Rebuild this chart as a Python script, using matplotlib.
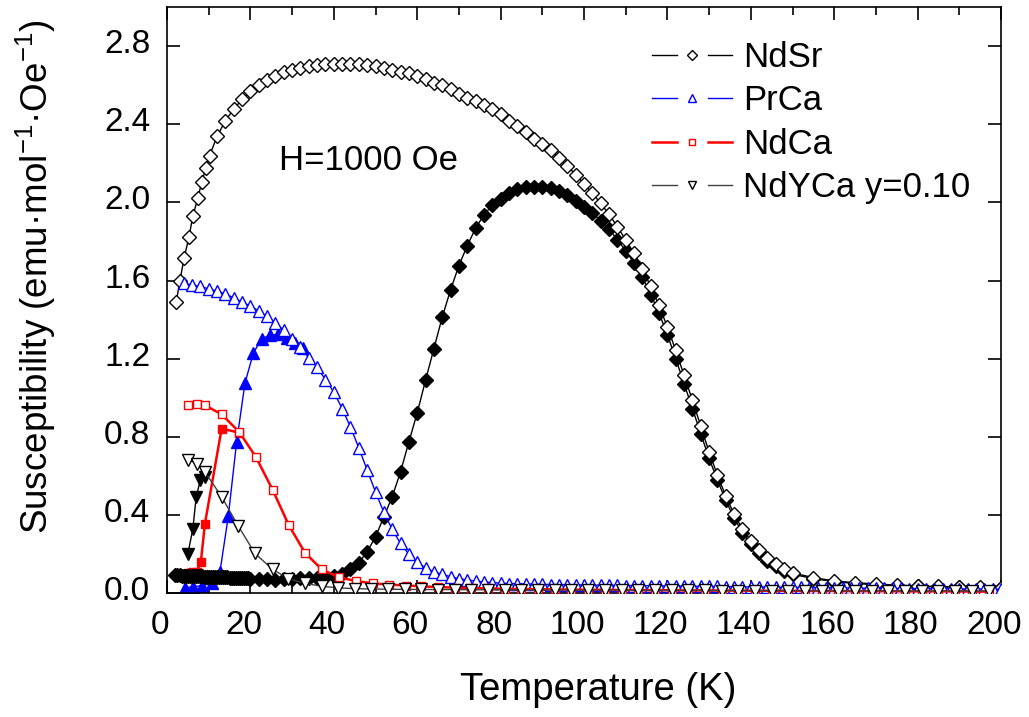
import matplotlib
matplotlib.use("Agg")
import matplotlib.pyplot as plt
from matplotlib.lines import Line2D
from matplotlib.legend_handler import HandlerBase
from matplotlib.ticker import MultipleLocator
from matplotlib.transforms import ScaledTranslation

plt.rcParams["font.family"] = ["Liberation Sans", "DejaVu Sans"]
plt.rcParams["mathtext.fontset"] = "custom"
plt.rcParams["mathtext.rm"] = "Liberation Sans"
plt.rcParams["mathtext.default"] = "regular"

# ====== NdSr (open = FC, filled = ZFC) ======
T_ndsr_fc = [2.2, 3.1, 4.1, 5.3, 6.2, 7.4, 8.3, 9.3, 10.2,
             12, 14, 16, 18, 20, 22, 24, 26, 28, 30, 32, 34, 36, 38, 40, 42, 44, 46, 48, 50,
             52, 54, 56, 58, 60, 62, 64, 66, 68, 70, 72, 74, 76, 78, 80, 82, 84, 86, 88, 90,
             92, 94, 96, 98, 100, 102, 104, 106, 108, 110, 112, 114, 116, 118, 120, 122, 124,
             126, 128, 130, 132, 134, 136, 138, 140, 142, 144, 146, 148, 150,
             155, 160, 165, 170, 175, 180, 185, 190, 195, 200]
chi_ndsr_fc = [1.490, 1.600, 1.716, 1.825, 1.933, 2.021, 2.103, 2.174, 2.239,
               2.338, 2.418, 2.478, 2.527, 2.568, 2.600, 2.627, 2.648, 2.665, 2.678, 2.689,
               2.697, 2.704, 2.707, 2.710, 2.710, 2.709, 2.707, 2.704, 2.699,
               2.690, 2.680, 2.670, 2.660, 2.645, 2.630, 2.612, 2.600, 2.580, 2.554, 2.537,
               2.520, 2.500, 2.478, 2.452, 2.418, 2.392, 2.358, 2.327, 2.299,
               2.266, 2.226, 2.186, 2.143, 2.096, 2.048, 1.995, 1.940, 1.876, 1.808, 1.740,
               1.660, 1.570, 1.473, 1.362, 1.243, 1.115,
               0.988, 0.855, 0.723, 0.604, 0.497, 0.405, 0.327, 0.269, 0.221, 0.179, 0.148,
               0.123, 0.105,
               0.080, 0.064, 0.054, 0.048, 0.042, 0.037, 0.035, 0.033, 0.031, 0.029]

T_ndsr_zfc = [2.0, 2.5, 3.0, 3.5, 4.0, 4.5, 5.0, 5.5, 6.0, 6.5, 7.0, 7.5, 8.0, 8.5, 9.0,
              9.5, 10.0, 10.5, 11.0, 11.5, 12.0, 12.5, 13.0, 13.5, 14.0, 14.5, 15.0, 15.5,
              16.0, 16.5, 17.0, 17.5, 18.0, 18.5, 19.0, 19.5, 20.0,
              22, 24, 26, 28, 30, 32, 34, 36, 38, 40, 42, 44, 46, 48, 50, 52, 54, 56, 58, 60,
              62, 64, 66, 68, 70, 72, 74, 76, 78, 80, 82, 84, 86, 88, 90, 92, 94, 96, 98, 100,
              102, 104, 106, 108, 110, 112, 114, 116, 118, 120, 122, 124, 126, 128, 130, 132,
              134, 136, 138, 140, 142, 144, 146, 148, 150,
              155, 160, 165, 170, 175, 180, 185, 190, 195, 200]
chi_ndsr_zfc = [0.093, 0.092, 0.092, 0.091, 0.091, 0.090, 0.090, 0.089, 0.089, 0.088, 0.088,
                0.088, 0.087, 0.087, 0.086, 0.086, 0.085, 0.085, 0.084, 0.084, 0.083, 0.083,
                0.082, 0.082, 0.081, 0.081, 0.080, 0.080, 0.079, 0.079, 0.078, 0.078, 0.077,
                0.077, 0.076, 0.076, 0.075,
                0.072, 0.071, 0.070, 0.071, 0.073, 0.078, 0.080, 0.078, 0.082, 0.088, 0.099,
                0.122, 0.156, 0.213, 0.289, 0.391, 0.494, 0.621, 0.775, 0.923,
                1.090, 1.252, 1.413, 1.553, 1.677, 1.779, 1.868, 1.936, 1.987, 2.018, 2.047,
                2.069, 2.077, 2.081, 2.081, 2.072, 2.057, 2.036, 2.009, 1.978,
                1.946, 1.907, 1.865, 1.808, 1.754, 1.689, 1.617, 1.529, 1.434, 1.323, 1.200,
                1.073, 0.945, 0.817, 0.690, 0.579,
                0.475, 0.385, 0.310, 0.250, 0.205, 0.167, 0.138, 0.115, 0.098,
                0.075, 0.060, 0.050, 0.044, 0.039, 0.035, 0.033, 0.031, 0.029, 0.027]

# ====== PrCa ======
T_prca_fc = [4, 6, 8, 10, 12, 14, 16, 18, 20, 22, 24, 26, 28, 30, 32, 34, 36, 38, 40, 42,
             44, 46, 48, 50, 52, 54, 56, 58, 60, 62, 64, 66, 68, 70, 72, 74, 76, 78, 80, 82,
             84, 86, 88, 90, 92, 94, 96, 98, 100, 102, 104, 106, 108, 110, 112, 114, 116, 118,
             120, 122, 124, 126, 128, 130, 132, 134, 136, 138, 140, 142, 144, 146, 148, 150,
             152, 154, 156, 158, 160, 162, 164, 166, 168, 170, 172, 174, 176, 178, 180, 182,
             184, 186, 188, 190, 192, 194, 196, 198, 200]
chi_prca_fc = [1.587, 1.578, 1.570, 1.558, 1.546, 1.532, 1.512, 1.490, 1.470, 1.445, 1.418,
               1.385, 1.345, 1.303, 1.260, 1.205, 1.157, 1.093, 1.030, 0.945, 0.851, 0.744,
               0.630, 0.519, 0.414, 0.327, 0.255, 0.200, 0.158, 0.130, 0.110, 0.097, 0.085,
               0.075, 0.068, 0.063, 0.058, 0.055, 0.052, 0.050, 0.049, 0.048, 0.047, 0.046,
               0.045, 0.045, 0.044, 0.043, 0.043,
               0.042, 0.042, 0.041, 0.041, 0.040, 0.040, 0.039, 0.039, 0.038, 0.038,
               0.037, 0.037, 0.036, 0.036, 0.035, 0.035, 0.034, 0.034, 0.033, 0.033,
               0.032, 0.032, 0.031, 0.031, 0.030, 0.030, 0.029, 0.029, 0.028, 0.028,
               0.027, 0.027, 0.026, 0.026, 0.026, 0.025, 0.025, 0.025, 0.024, 0.024,
               0.024, 0.023, 0.023, 0.023, 0.022, 0.022, 0.022, 0.022, 0.021, 0.021]

T_prca_zfc = [4.3, 6.3, 8.5, 10.7, 12.7, 14.7, 16.7, 18.7, 20.7, 22.7, 24.7, 26.7, 28.7,
              30.7, 32.7]
chi_prca_zfc = [0.029, 0.033, 0.040, 0.051, 0.110, 0.395, 0.775, 1.076, 1.229, 1.303, 1.320,
                1.325, 1.306, 1.280, 1.255]

# ====== NdCa ======
T_ndca_fc = [5.1, 7.1, 9.1, 13.1, 17.3, 21.3, 25.3, 29.2, 33.1, 37.1, 41.2, 45.3, 49.3,
             53.3, 57.3, 61, 65, 69, 73, 77, 81, 85, 89, 93, 97, 101, 105, 109, 113, 117,
             121, 125, 129, 133, 137, 141, 145, 149, 153, 157, 161, 165, 169, 173, 177, 181,
             185, 189, 193, 197]
chi_ndca_fc = [0.962, 0.967, 0.962, 0.916, 0.826, 0.698, 0.531, 0.349, 0.207, 0.123, 0.082,
               0.063, 0.051, 0.045, 0.040, 0.036, 0.032, 0.029, 0.027, 0.025, 0.023, 0.022,
               0.021, 0.020, 0.019, 0.018, 0.018, 0.017, 0.017, 0.016, 0.016, 0.015, 0.015,
               0.014, 0.014, 0.013, 0.013, 0.013, 0.012, 0.012, 0.012, 0.011, 0.011, 0.011,
               0.010, 0.010, 0.010, 0.010, 0.009, 0.009]

T_ndca_zfc = [5.1, 6.1, 7.1, 8.1, 9.1, 13.1, 17.3]
chi_ndca_zfc = [0.105, 0.108, 0.110, 0.158, 0.357, 0.843, 0.822]

# ====== NdYCa y=0.10 ======
T_ndyca_fc = [5.1, 7.1, 9.1, 13.1, 17.1, 21.1, 25.3, 29.1, 33.1, 37.1, 41.1, 45, 49, 53,
              57, 61, 65, 69, 73, 77, 81, 85, 89, 93, 97, 101, 105, 109, 113, 117, 121, 125,
              129, 133, 137, 141, 145, 149, 153, 157, 161, 165, 169, 173, 177, 181, 185, 189,
              193, 197]
chi_ndyca_fc = [0.684, 0.664, 0.621, 0.494, 0.344, 0.204, 0.123, 0.075, 0.051, 0.036, 0.028,
                0.024, 0.022, 0.021, 0.020, 0.020, 0.019, 0.019, 0.018, 0.018, 0.018, 0.017,
                0.017, 0.017, 0.016, 0.016, 0.016, 0.016, 0.015, 0.015, 0.015, 0.015, 0.015,
                0.014, 0.014, 0.014, 0.014, 0.014, 0.013, 0.013, 0.013, 0.013, 0.013, 0.013,
                0.012, 0.012, 0.012, 0.012, 0.012, 0.012]

T_ndyca_zfc = [5.0, 6.2, 7.0, 8.0, 9.0]
chi_ndyca_zfc = [0.202, 0.330, 0.494, 0.580, 0.596]


# legend entry: short line, gap, marker, gap, short line
class GapLineHandler(HandlerBase):
    def create_artists(self, legend, orig_handle, xdescent, ydescent, width, height,
                       fontsize, trans):
        y = height / 2 - ydescent
        x0 = -xdescent
        xm = x0 + width / 2
        gap = 0.19 * width
        kw = dict(color=orig_handle.get_color(), lw=orig_handle.get_linewidth())
        left = Line2D([x0, xm - gap], [y, y], **kw)
        right = Line2D([xm + gap, x0 + width], [y, y], **kw)
        mark = Line2D([xm], [y], ls="none", marker=orig_handle.get_marker(),
                      ms=orig_handle.get_markersize() * 0.72,
                      mfc="white", mec=orig_handle.get_markeredgecolor(), mew=1.0)
        for a in (left, right, mark):
            a.set_transform(trans)
        return [left, right, mark]


fig = plt.figure(figsize=(10.29, 7.17), dpi=100)
ax = fig.add_axes([0.1623, 0.1725, 0.8105, 0.8177])

# filled symbols (ZFC) underneath
ax.plot(T_ndca_zfc, chi_ndca_zfc, "-s", color="red", lw=1.8, ms=6.2, mfc="red", mec="red",
        zorder=2)
ax.plot(T_ndyca_zfc, chi_ndyca_zfc, "-v", color="black", lw=1.0, ms=8, mfc="black",
        mec="black", zorder=2)
ax.plot(T_prca_zfc, chi_prca_zfc, "-^", color="blue", lw=1.0, ms=8, mfc="blue", mec="blue",
        zorder=2)
ax.plot(T_ndsr_zfc, chi_ndsr_zfc, "-D", color="black", lw=1.0, ms=7, mfc="black",
        mec="black", zorder=2.5)

# open symbols (FC) on top
l_ndsr, = ax.plot(T_ndsr_fc, chi_ndsr_fc, "-D", color="black", lw=1.0, ms=7, mfc="white",
                  mec="black", mew=1.0, zorder=3)
l_prca, = ax.plot(T_prca_fc, chi_prca_fc, "-^", color="blue", lw=1.0, ms=8, mfc="white",
                  mec="blue", mew=1.0, zorder=3)
l_ndca, = ax.plot(T_ndca_fc, chi_ndca_fc, "-s", color="red", lw=1.8, ms=6.2, mfc="white",
                  mec="red", mew=1.0, zorder=3)
l_ndyca, = ax.plot(T_ndyca_fc, chi_ndyca_fc, "-v", color="#404040", lw=1.0, ms=8,
                   mfc="white", mec="black", mew=1.0, zorder=3)

ax.set_xlim(0, 200)
ax.set_ylim(0, 3.0)
ax.xaxis.set_major_locator(MultipleLocator(20))
ax.xaxis.set_minor_locator(MultipleLocator(10))
ax.set_yticks([0.0, 0.4, 0.8, 1.2, 1.6, 2.0, 2.4, 2.8])
ax.yaxis.set_major_formatter(plt.FormatStrFormatter("%.1f"))

ax.tick_params(which="both", direction="in", top=True, right=True, width=1.2)
ax.tick_params(which="major", length=9.5, labelsize=24, pad=12)
ax.tick_params(which="minor", length=5.5)
for s in ax.spines.values():
    s.set_linewidth(1.2)

# tick labels sit a little left / above their ticks
for lab in ax.get_xticklabels():
    lab.set_transform(lab.get_transform() + ScaledTranslation(-0.07, 0, fig.dpi_scale_trans))
for lab in ax.get_yticklabels():
    lab.set_transform(lab.get_transform() + ScaledTranslation(0, 0.05, fig.dpi_scale_trans))

ax.set_xlabel("Temperature (K)", fontsize=27.5)
ax.set_ylabel("Susceptibility (emu·mol$^{-1}$·Oe$^{-1}$)", fontsize=26.5)
ax.xaxis.set_label_coords(0.517, -0.135)
ax.yaxis.set_label_coords(-0.131, 0.54)

ax.text(0.134, 0.739, "H=1000 Oe", transform=ax.transAxes, fontsize=25, va="center",
        ha="left")

ax.legend([l_ndsr, l_prca, l_ndca, l_ndyca], ["NdSr", "PrCa", "NdCa", "NdYCa y=0.10"],
          handler_map={Line2D: GapLineHandler()}, loc="upper left",
          bbox_to_anchor=(0.582, 0.942), frameon=False, fontsize=25, borderpad=0,
          borderaxespad=0, handlelength=2.3, handletextpad=0.32, labelspacing=0.3)

fig.savefig("out.png", dpi=100)
